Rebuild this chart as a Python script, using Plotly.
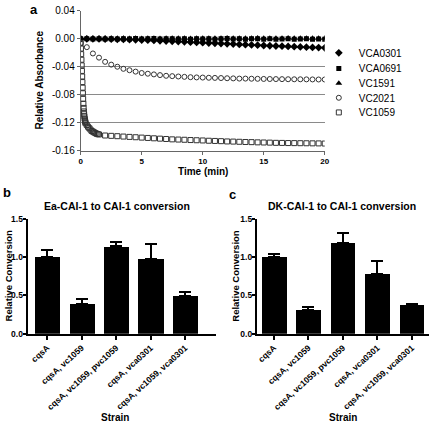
import plotly.graph_objects as go

# ---------------- data: panel a ----------------
t_std = [0, 0.5, 1, 1.5, 2, 2.5, 3, 3.5, 4, 4.5, 5, 5.5, 6, 6.5, 7, 7.5, 8, 8.5, 9, 9.5,
         10, 10.5, 11, 11.5, 12, 12.5, 13, 13.5, 14, 14.5, 15, 15.5, 16, 16.5, 17, 17.5,
         18, 18.5, 19, 19.5, 20]
vca0301 = [0.0, 0.0, 0.0, -0.0002, -0.0003, -0.0005, -0.0007, -0.0009, -0.0011, -0.0014,
           -0.0017, -0.0020, -0.0024, -0.0028, -0.0032, -0.0036, -0.0040, -0.0044, -0.0048,
           -0.0052, -0.0056, -0.0060, -0.0064, -0.0068, -0.0072, -0.0076, -0.0080, -0.0084,
           -0.0088, -0.0092, -0.0096, -0.0100, -0.0103, -0.0106, -0.0110, -0.0113, -0.0116,
           -0.0120, -0.0123, -0.0126, -0.0130]
vca0691 = [0.0, 0.0, -0.0002, 0.0, -0.0003, 0.0002, -0.0002, 0.0, -0.0004, 0.0003, -0.0003,
           0.0, 0.0003, -0.0004, 0.0, 0.0002, -0.0003, 0.0, -0.0005, 0.0, -0.0004, 0.0002,
           -0.0005, 0.0, 0.0003, -0.0004, 0.0, -0.0005, 0.0, 0.0002, -0.0005, 0.0, -0.0006,
           -0.0002, 0.0, -0.0006, -0.0003, 0.0, -0.0006, -0.0004, -0.0006]
vc1591 = [0.0, 0.0003, 0.0002, 0.0004, 0.0002, 0.0005, 0.0003, 0.0006, 0.0004, 0.0007,
          0.0004, 0.0006, 0.0008, 0.0005, 0.0007, 0.0009, 0.0006, 0.0008, 0.0005, 0.0009,
          0.0007, 0.0008, 0.0006, 0.0009, 0.0010, 0.0007, 0.0009, 0.0006, 0.0008, 0.0010,
          0.0007, 0.0009, 0.0006, 0.0008, 0.0010, 0.0007, 0.0009, 0.0008, 0.0006, 0.0009, 0.0008]
vc2021 = [-0.006, -0.012, -0.021, -0.027, -0.033, -0.037, -0.040, -0.043, -0.045, -0.047,
          -0.049, -0.050, -0.051, -0.052, -0.053, -0.0535, -0.054, -0.0545, -0.055, -0.0553,
          -0.0555, -0.0558, -0.056, -0.0562, -0.0565, -0.0567, -0.057, -0.057, -0.0572,
          -0.0573, -0.0575, -0.0576, -0.0577, -0.0578, -0.0579, -0.058, -0.058, -0.0581,
          -0.0582, -0.0583, -0.0583]
t_1059 = [0, 0.02, 0.04, 0.06, 0.08, 0.1, 0.12, 0.14, 0.16, 0.18, 0.2, 0.22, 0.24, 0.26,
          0.28, 0.3, 0.32, 0.34, 0.36, 0.38, 0.4,
          0.5, 0.6, 0.7, 0.8, 0.9, 1.0, 1.1, 1.2, 1.3, 1.4, 1.5,
          2, 2.5, 3, 3.5, 4, 4.5, 5, 5.5, 6, 6.5, 7, 7.5, 8, 8.5, 9, 9.5, 10, 10.5, 11,
          11.5, 12, 12.5, 13, 13.5, 14, 14.5, 15, 15.5, 16, 16.5, 17, 17.5, 18, 18.5, 19,
          19.5, 20]
vc1059 = [-0.006, -0.014, -0.022, -0.030, -0.038, -0.046, -0.054, -0.062, -0.070, -0.078,
          -0.086, -0.093, -0.099, -0.104, -0.108, -0.111, -0.114, -0.116, -0.118, -0.1195,
          -0.121,
          -0.1235, -0.126, -0.128, -0.130, -0.132, -0.133, -0.134, -0.135, -0.136, -0.1365,
          -0.137,
          -0.1385, -0.139, -0.1395, -0.140, -0.1405, -0.141, -0.1415, -0.142, -0.1425,
          -0.143, -0.1435, -0.144, -0.1443, -0.1446, -0.145, -0.1453, -0.1456, -0.146,
          -0.1463, -0.1466, -0.147, -0.1472, -0.1475, -0.1478, -0.148, -0.1483, -0.1485,
          -0.1487, -0.149, -0.1491, -0.1493, -0.1494, -0.1495, -0.1496, -0.1497, -0.1498,
          -0.150]
a_ytickvals = [0.04, 0.0, -0.04, -0.08, -0.12, -0.16]
a_yticktext = ["0.04", "0.00", "-0.04", "-0.08", "-0.12", "-0.16"]
a_xtickvals = [0, 5, 10, 15, 20]

# ---------------- data: panels b, c ----------------
strains = ["cqsA", "cqsA, vc1059", "cqsA, vc1059, pvc1059", "cqsA, vca0301",
           "cqsA, vc1059, vca0301"]
ea_conv = [1.008, 0.39, 1.14, 0.978, 0.497]
ea_err = [0.09, 0.06, 0.06, 0.20, 0.053]
dk_conv = [1.005, 0.31, 1.18, 0.785, 0.37]
dk_err = [0.035, 0.035, 0.13, 0.17, 0.02]
bar_ytickvals = [0, 0.5, 1.0, 1.5]
bar_yticktext = ["0.0", "0.5", "1.0", "1.5"]

W, H = 435, 428
FONT = "Arial, Liberation Sans, sans-serif"


def px(x):
    return x / W


def py(y):
    return 1 - y / H


fig = go.Figure()

# panel a traces, each with its own legend box so the entries can sit close together
series_a = [
    ("VCA0301", t_std, vca0301, dict(symbol="diamond", size=6, color="black")),
    ("VCA0691", t_std, vca0691, dict(symbol="square", size=5, color="black")),
    ("VC1591", t_std, vc1591, dict(symbol="triangle-up", size=6, color="black")),
    ("VC2021", t_std, vc2021, dict(symbol="circle-open", size=5, color="#333",
                                   line=dict(width=1))),
    ("VC1059", t_1059, vc1059, dict(symbol="square-open", size=5, color="#333",
                                    line=dict(width=1))),
]
legend_names = ["legend", "legend2", "legend3", "legend4", "legend5"]
legend_rows = [49, 65, 80, 95, 110]
for (name, xs, ys, mk), lg in zip(series_a, legend_names):
    fig.add_trace(go.Scatter(x=xs, y=ys, mode="markers", name=name, marker=mk,
                             legend=lg, xaxis="x", yaxis="y"))

# panel b
fig.add_trace(go.Bar(x=list(range(len(strains))), y=ea_conv, width=0.73,
                     marker=dict(color="black", line=dict(width=0)),
                     error_y=dict(type="data", symmetric=False, array=ea_err,
                                  arrayminus=[0] * len(ea_err), color="black",
                                  thickness=2, width=6),
                     showlegend=False, xaxis="x2", yaxis="y2"))
# panel c
fig.add_trace(go.Bar(x=list(range(len(strains))), y=dk_conv, width=0.72,
                     marker=dict(color="black", line=dict(width=0)),
                     error_y=dict(type="data", symmetric=False, array=dk_err,
                                  arrayminus=[0] * len(dk_err), color="black",
                                  thickness=2, width=6),
                     showlegend=False, xaxis="x3", yaxis="y3"))

a_x0, a_x1, a_y0, a_y1 = 80, 328, 6, 149
b_x0, b_x1 = 26, 218
c_x0, c_x1 = 259, 434
bc_y0, bc_y1 = 219, 336.5

ax_bar_common = dict(showline=True, linecolor="black", linewidth=2, ticks="outside",
                     tickwidth=1.5, tickcolor="black", showgrid=False,
                     zeroline=False)

layout = dict(
    width=W, height=H, margin=dict(l=0, r=0, t=0, b=0),
    paper_bgcolor="white", plot_bgcolor="white",
    font=dict(family=FONT, color="black"),
    bargap=0,
    xaxis=dict(domain=[px(a_x0), px(a_x1)], range=[0, 20], anchor="y",
               tickvals=a_xtickvals, ticktext=[str(v) for v in a_xtickvals],
               tickfont=dict(size=8, family=FONT, weight="bold"),
               showline=True, linecolor="#666", linewidth=1, ticks="outside",
               ticklen=3, tickcolor="#666", showgrid=False, zeroline=False),
    yaxis=dict(domain=[py(a_y1), py(a_y0)], range=[-0.16, 0.04], anchor="x",
               tickvals=a_ytickvals, ticktext=a_yticktext,
               tickfont=dict(size=10, family=FONT),
               showline=True, linecolor="#666", linewidth=1, ticks="outside",
               ticklen=3, tickcolor="#666", showgrid=True, gridcolor="#8a8a8a",
               gridwidth=1, zeroline=False),
    xaxis2=dict(domain=[px(b_x0), px(b_x1)], range=[-0.57, 4.91], anchor="y2",
                tickvals=list(range(len(strains))), ticktext=strains, tickangle=-42,
                ticklen=4,
                tickfont=dict(size=8.5, family=FONT, weight="bold"), **ax_bar_common),
    yaxis2=dict(domain=[py(bc_y1), py(bc_y0)], range=[0, 1.5], anchor="x2",
                tickvals=bar_ytickvals, ticktext=bar_yticktext, ticklen=3,
                ticklabelstandoff=-2,
                tickfont=dict(size=8.5, family=FONT, weight="bold"), **ax_bar_common),
    xaxis3=dict(domain=[px(c_x0), px(c_x1)], range=[-0.5, 4.5], anchor="y3",
                tickvals=list(range(len(strains))), ticktext=strains, tickangle=-42,
                ticklen=4,
                tickfont=dict(size=8.5, family=FONT, weight="bold"), **ax_bar_common),
    yaxis3=dict(domain=[py(bc_y1), py(bc_y0)], range=[0, 1.5], anchor="x3",
                tickvals=bar_ytickvals, ticktext=bar_yticktext, ticklen=3,
                ticklabelstandoff=-2,
                tickfont=dict(size=8.5, family=FONT, weight="bold"), **ax_bar_common),
)
for lg, row in zip(legend_names, legend_rows):
    layout[lg] = dict(x=px(322), y=py(row), xanchor="left", yanchor="middle",
                      font=dict(size=10, family=FONT), bgcolor="rgba(0,0,0,0)",
                      itemwidth=30)
fig.update_layout(**layout)

ann = []


def add_text(x, y, text, size, bold=True, angle=0, xanchor="center", yanchor="middle"):
    ann.append(dict(x=px(x), y=py(y), xref="paper", yref="paper", text=text,
                    showarrow=False, textangle=angle, xanchor=xanchor, yanchor=yanchor,
                    font=dict(size=size, family=FONT, color="black",
                              weight="bold" if bold else "normal")))


add_text(33, 5, "a", 13)
add_text(5, 192, "b", 13)
add_text(234, 194, "c", 13)
add_text(38, 77, "Relative Absorbance", 10, angle=-90)
add_text(204, 170, "Time (min)", 10)
add_text(117, 206, "Ea-CAI-1 to CAI-1 conversion", 10.5)
add_text(346, 206, "DK-CAI-1 to CAI-1 conversion", 10.5)
add_text(7, 277, "Relative Conversion", 9.5, angle=-90)
add_text(237, 277, "Relative Conversion", 9.5, angle=-90)
add_text(115, 422, "Strain", 10)
add_text(347, 422, "Strain", 10)
fig.update_layout(annotations=ann)

fig.write_html(
    "out.html",
    config={"displayModeBar": False},
    post_script="document.body.style.margin='0';document.body.style.padding='0';"
                "document.body.style.overflow='hidden';",
)
